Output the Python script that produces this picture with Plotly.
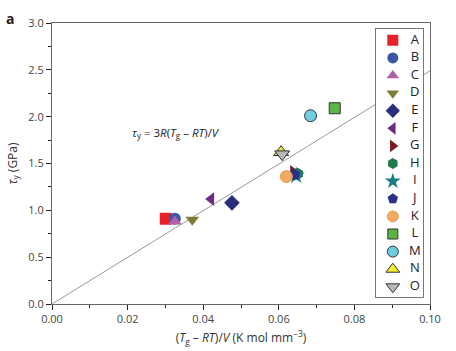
import plotly.graph_objects as go

# ---- data ----
names = ["A", "B", "C", "D", "E", "F", "G", "H", "I", "J", "K", "L", "M", "N", "O"]
x_vals = [0.0301, 0.0325, 0.0325, 0.0371, 0.0476, 0.0421, 0.0638, 0.0650, 0.0646, 0.0642, 0.0620, 0.0748, 0.0684, 0.0606, 0.0609]
y_vals = [0.91, 0.91, 0.88, 0.90, 1.08, 1.12, 1.41, 1.39, 1.37, 1.38, 1.36, 2.09, 2.01, 1.62, 1.60]
symbols = ["square", "circle", "triangle-up", "triangle-down", "diamond", "triangle-left",
           "triangle-right", "hexagon", "star", "pentagon", "circle", "square", "circle",
           "triangle-up", "triangle-down"]
colors = ["#e8202a", "#3a56a5", "#b060a8", "#7d7e35", "#2a2d7a", "#6b2c82", "#7a1a22",
          "#1c7a4c", "#1a7f80", "#2b2e88", "#f2a962", "#5cb346", "#6fcde0", "#f4ec2c", "#b8b8b8"]
edges = [None, None, None, None, None, None, None, None, None, None, "#e8a050",
         "#333333", "#333333", "#333333", "#333333"]
sizes = [12, 12, 12, 12, 12, 12, 12, 12, 13, 12, 12, 11, 12, 13, 13]

line_x = [0.0, 0.10]
line_y = [0.0, 2.49]

x_ticks = [0.00, 0.02, 0.04, 0.06, 0.08, 0.10]
y_ticks = [0.0, 0.5, 1.0, 1.5, 2.0, 2.5, 3.0]

FONT = "Open Sans"
AX = "#666666"

fig = go.Figure()

fig.add_trace(go.Scatter(x=line_x, y=line_y, mode="lines",
                         line=dict(color="#999999", width=1), showlegend=False,
                         hoverinfo="skip"))

for i, n in enumerate(names):
    ec = edges[i] if edges[i] else colors[i]
    fig.add_trace(go.Scatter(
        x=[x_vals[i]], y=[y_vals[i]], mode="markers", name=n, showlegend=False,
        marker=dict(symbol=symbols[i], size=sizes[i], color=colors[i],
                    line=dict(color=ec, width=1 if edges[i] else 0))))

# ---- hand-drawn legend on an overlapping subplot ----
idx = list(range(len(names)))
for i, n in enumerate(names):
    ec = edges[i] if edges[i] else colors[i]
    fig.add_trace(go.Scatter(
        x=[0.36], y=[idx[i]], xaxis="x2", yaxis="y2", mode="markers", showlegend=False,
        marker=dict(symbol=symbols[i], size=sizes[i] - 1, color=colors[i],
                    line=dict(color=ec, width=1 if edges[i] else 0)),
        hoverinfo="skip"))
fig.add_trace(go.Scatter(
    x=[0.83] * len(names), y=idx, xaxis="x2", yaxis="y2", mode="text", text=names,
    textfont=dict(family=FONT, size=13, color="#222222"), showlegend=False,
    hoverinfo="skip"))

axis_common = dict(showgrid=False, zeroline=False, showline=True, linecolor=AX,
                   linewidth=1, mirror=True, ticks="outside", tickcolor="#222222",
                   ticklen=5, tickwidth=1.2, automargin=False,
                   tickfont=dict(family=FONT, size=11, color="#444444"))

fig.update_layout(
    width=456, height=351,
    margin=dict(l=52, r=26, t=23, b=47),
    plot_bgcolor="white", paper_bgcolor="white",
    font=dict(family=FONT, color="#333333"),
    xaxis=dict(range=[0, 0.10], tickvals=x_ticks, tickformat=".2f",
               minor=dict(ticks="outside", ticklen=3, dtick=0.01, tickcolor="#222222"),
               title=dict(text="(<i>T</i><sub>g</sub> – <i>RT</i>)/<i>V</i> (K mol mm<sup>−3</sup>)",
                          font=dict(family=FONT, size=12, color="#333333"), standoff=8),
               **axis_common),
    yaxis=dict(range=[0, 3.0], tickvals=y_ticks, tickformat=".1f",
               minor=dict(ticks="outside", ticklen=3, dtick=0.25, tickcolor="#222222"),
               title=dict(text="<i>τ</i><sub>y</sub> (GPa)",
                          font=dict(family=FONT, size=12, color="#333333"), standoff=8),
               **axis_common),
    xaxis2=dict(domain=[0.857, 0.981], range=[0, 1], anchor="y2",
                showgrid=False, zeroline=False, showticklabels=False, ticks="",
                showline=True, mirror=True, linecolor="#777777", linewidth=1),
    yaxis2=dict(domain=[0.026, 0.98], range=[14.56, -0.665], anchor="x2",
                showgrid=False, zeroline=False, showticklabels=False, ticks="",
                showline=True, mirror=True, linecolor="#777777", linewidth=1),
    annotations=[
        dict(text="<b>a</b>", xref="paper", yref="paper", x=-0.112, y=1.015,
             xanchor="center", yanchor="middle", showarrow=False,
             font=dict(family=FONT, size=14, color="#222222")),
        dict(text="<i>τ</i><sub>y</sub> = 3<i>R</i>(<i>T</i><sub>g</sub> – <i>RT</i>)/<i>V</i>",
             x=0.0328, y=1.83, xref="x", yref="y", showarrow=False,
             font=dict(family=FONT, size=11.5, color="#222222")),
    ],
)

fig.write_html("out.html")
